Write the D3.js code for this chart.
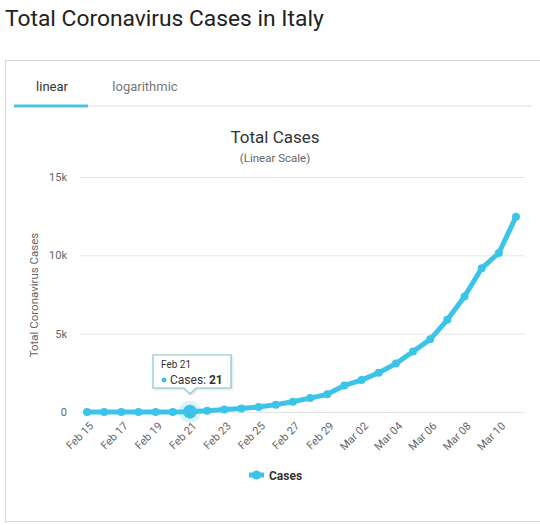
<!DOCTYPE html>
<html>
<head>
<meta charset="utf-8">
<script src="https://cdn.jsdelivr.net/npm/d3@7"></script>
<style>
  body { margin: 0; background: #fff; font-family: Roboto, "Open Sans", sans-serif; }
  svg { display: block; }
</style>
</head>
<body>
<svg id="chart" width="540" height="525"></svg>
<script>
// data
const dates = ["Feb 15", "Feb 16", "Feb 17", "Feb 18", "Feb 19", "Feb 20", "Feb 21", "Feb 22",
  "Feb 23", "Feb 24", "Feb 25", "Feb 26", "Feb 27", "Feb 28", "Feb 29", "Mar 01", "Mar 02",
  "Mar 03", "Mar 04", "Mar 05", "Mar 06", "Mar 07", "Mar 08", "Mar 09", "Mar 10", "Mar 11"];
const cases = [3, 3, 3, 3, 3, 3, 21, 79, 157, 229, 323, 470, 655, 889, 1128, 1694, 2036,
  2502, 3089, 3858, 4636, 5883, 7375, 9172, 10149, 12462];
const yTicks = [0, 5000, 10000, 15000];
const tickDates = dates.filter((d, i) => i % 2 === 0 && i < 25);
const seriesName = "Cases";
const hoverIndex = 6;

const color = "#3cc3e8";
const svg = d3.select("#chart");

// page title
svg.append("text")
  .attr("x", 5).attr("y", 26)
  .style("font-size", "22.8px").style("fill", "#222")
  .text("Total Coronavirus Cases in Italy");

// card
svg.append("rect")
  .attr("x", 5.5).attr("y", 60.5)
  .attr("width", 560).attr("height", 461)
  .style("fill", "#fff").style("stroke", "#d6d6d6");

// tabs
svg.append("line")
  .attr("x1", 14).attr("x2", 532).attr("y1", 106).attr("y2", 106)
  .style("stroke", "#eeeeee").style("stroke-width", 2);
svg.append("line")
  .attr("x1", 14).attr("x2", 88).attr("y1", 106).attr("y2", 106)
  .style("stroke", "#4ac3dc").style("stroke-width", 3);
svg.append("text")
  .attr("x", 52).attr("y", 91).attr("text-anchor", "middle")
  .style("font-size", "13px").style("fill", "#333").text("linear");
svg.append("text")
  .attr("x", 145).attr("y", 91).attr("text-anchor", "middle")
  .style("font-size", "13px").style("fill", "#777").text("logarithmic");

// chart titles
svg.append("text")
  .attr("x", 275).attr("y", 143).attr("text-anchor", "middle")
  .style("font-size", "17px").style("fill", "#333").text("Total Cases");
svg.append("text")
  .attr("x", 275).attr("y", 162).attr("text-anchor", "middle")
  .style("font-size", "11.5px").style("fill", "#666").text("(Linear Scale)");

// scales
const x = d3.scalePoint().domain(dates).range([87, 516]);
const y = d3.scaleLinear().domain([0, 15000]).range([412, 177]);

// grid + y labels
const yAxis = svg.append("g")
  .attr("transform", "translate(80,0)")
  .call(d3.axisLeft(y).tickValues(yTicks).tickSize(-445)
    .tickFormat(d => d === 0 ? "0" : d3.format("~s")(d)));
yAxis.select(".domain").remove();
yAxis.selectAll(".tick line").style("stroke", "#e6e6e6");
yAxis.selectAll(".tick text")
  .attr("x", -13).style("font-size", "11px").style("fill", "#666")
  .style("font-family", "Roboto, sans-serif");

svg.append("text")
  .attr("transform", "translate(38,295) rotate(-90)")
  .attr("text-anchor", "middle")
  .style("font-size", "11.5px").style("fill", "#666")
  .text("Total Coronavirus Cases");

// x labels
const xAxis = svg.append("g")
  .attr("transform", "translate(0,412)")
  .call(d3.axisBottom(x).tickValues(tickDates).tickSize(0));
xAxis.select(".domain").remove();
xAxis.selectAll(".tick text")
  .attr("text-anchor", "end")
  .attr("transform", "translate(4,12) rotate(-45)")
  .attr("dy", "0.35em").attr("y", 0).attr("x", 0)
  .style("font-size", "11px").style("fill", "#666")
  .style("font-family", "Roboto, sans-serif");

// series
const line = d3.line().x(d => x(d.date)).y(d => y(d.value));
const points = dates.map((d, i) => ({ date: d, value: cases[i] }));
svg.append("path")
  .datum(points)
  .attr("d", line)
  .style("fill", "none").style("stroke", color)
  .style("stroke-width", 5).style("stroke-linejoin", "round");
svg.selectAll("circle.pt")
  .data(points)
  .enter().append("circle")
  .attr("class", "pt")
  .attr("cx", d => x(d.date)).attr("cy", d => y(d.value))
  .attr("r", 4).style("fill", color);

// hovered point
const hp = points[hoverIndex];
svg.append("circle")
  .attr("cx", x(hp.date)).attr("cy", y(hp.value))
  .attr("r", 11).style("fill", color).style("opacity", 0.2);
svg.append("circle")
  .attr("cx", x(hp.date)).attr("cy", y(hp.value))
  .attr("r", 7).style("fill", color);

// tooltip
const tx = x(hp.date), tTop = 355, tBot = 388, tL = 153, tR = 231;
const tip = svg.append("g");
tip.append("path")
  .attr("d", `M${tL},${tTop} H${tR} V${tBot} H${tx + 6} L${tx},${tBot + 6} L${tx - 6},${tBot} H${tL} Z`)
  .style("fill", "#fff").style("stroke", "#7fc9d2").style("stroke-width", 1.2)
  .style("filter", "drop-shadow(1px 1px 1px rgba(0,0,0,0.15))");
tip.append("text")
  .attr("x", tL + 8).attr("y", tTop + 13)
  .style("font-size", "10px").style("fill", "#333").text(hp.date);
tip.append("circle")
  .attr("cx", tL + 11).attr("cy", tTop + 25).attr("r", 2.5).style("fill", color);
const tt = tip.append("text")
  .attr("x", tL + 17).attr("y", tTop + 29)
  .style("font-size", "12px").style("fill", "#333");
tt.append("tspan").text(seriesName + ": ");
tt.append("tspan").style("font-weight", "bold").text(hp.value);

// legend
svg.append("line")
  .attr("x1", 249).attr("x2", 264).attr("y1", 475).attr("y2", 475)
  .style("stroke", color).style("stroke-width", 5);
svg.append("circle")
  .attr("cx", 256.5).attr("cy", 475).attr("r", 4.5).style("fill", color);
svg.append("text")
  .attr("x", 269).attr("y", 479.5)
  .style("font-size", "12px").style("font-weight", "bold").style("fill", "#333")
  .text(seriesName);
</script>
</body>
</html>
